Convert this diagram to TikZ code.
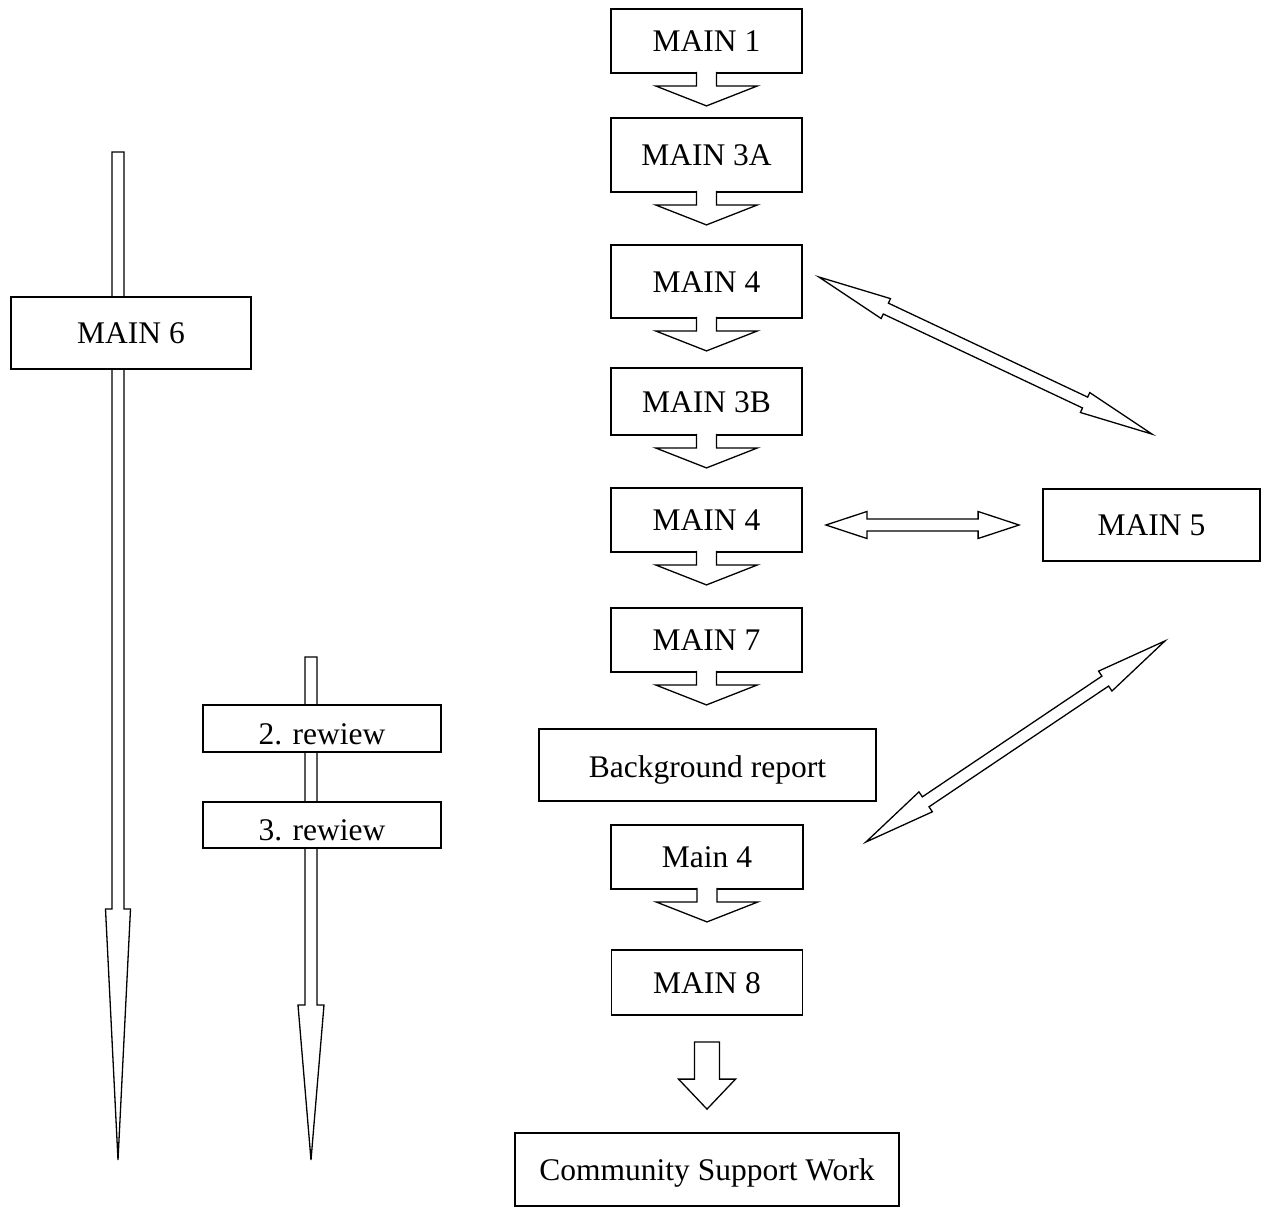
\documentclass[tikz,border=0pt]{standalone}
\usepackage{fontspec}
\setmainfont{Liberation Serif}
\usetikzlibrary{calc,positioning}

% block arrow from #1 to tip #2: stem half width, head half width, head length
\newcommand{\onearrow}[5]{%
  \coordinate (s) at (#1);
  \coordinate (t) at (#2);
  \coordinate (h) at ($(t)!#5!(s)$);
  \draw[blockarrow] ($(s)!#3!90:(t)$) -- ($(h)!#3!90:(t)$) -- ($(h)!#4!90:(t)$) -- (t)
    -- ($(h)!#4!-90:(t)$) -- ($(h)!#3!-90:(t)$) -- ($(s)!#3!-90:(t)$) -- cycle;}

% short arrow hanging below a box (open at the box)
\newcommand{\flowarrow}[1]{%
  \coordinate (s) at ($(#1.south)+(0,-2)$);
  \coordinate (t) at ($(#1.south)+(0,32)$);
  \coordinate (h) at ($(t)!20pt!(s)$);
  \draw[blockarrow] ($(s)!10pt!90:(t)$) -- ($(h)!10pt!90:(t)$) -- ($(h)!51pt!90:(t)$) -- (t)
    -- ($(h)!51pt!-90:(t)$) -- ($(h)!10pt!-90:(t)$) -- ($(s)!10pt!-90:(t)$);}

% double block arrow between tips #1 and #2
\newcommand{\twoarrow}[5]{%
  \coordinate (a) at (#1);
  \coordinate (b) at (#2);
  \coordinate (ha) at ($(a)!#5!(b)$);
  \coordinate (hb) at ($(b)!#5!(a)$);
  \draw[blockarrow] (a) -- ($(ha)!#4!90:(b)$) -- ($(ha)!#3!90:(b)$) -- ($(hb)!#3!-90:(a)$)
    -- ($(hb)!#4!-90:(a)$) -- (b) -- ($(hb)!#4!90:(a)$) -- ($(hb)!#3!90:(a)$)
    -- ($(ha)!#3!-90:(b)$) -- ($(ha)!#4!-90:(b)$) -- cycle;}

\begin{document}
\begin{tikzpicture}[x=1pt,y=-1pt]
    \tikzstyle{stepbox}=[draw,fill=white,line width=1.8pt,inner sep=0pt,
      text height=21pt,text depth=0pt,font=\fontsize{31.5}{36}\selectfont]
    \tikzstyle{blockarrow}=[draw=black,fill=white,line width=1.3pt]
    \useasboundingbox (0,0) rectangle (1263,1208);

    % long arrows on the left
    \coordinate (l1top) at (118,152);
    \coordinate (l1tip) at (118,1160);
    \coordinate (l2top) at (311,657);
    \coordinate (l2tip) at (311,1160);
    \onearrow{l1top}{l1tip}{6pt}{12.5pt}{251pt}
    \onearrow{l2top}{l2tip}{6pt}{13pt}{155pt}

    \node[stepbox,minimum width=240pt,minimum height=72pt] (m6) at (131,333) {MAIN 6};
    \node[stepbox,minimum width=238pt,minimum height=47pt,text height=32pt] (r2) at (322,728.5) {2. rewiew};
    \node[stepbox,minimum width=238pt,minimum height=46pt,text height=30pt] (r3) at (322,825) {3. rewiew};

    % main column
    \node[stepbox,minimum width=191pt,minimum height=64pt] (m1)  at (706.5,41)    {MAIN 1};
    \node[stepbox,minimum width=191pt,minimum height=74pt] (m3a) at (706.5,155)   {MAIN 3A};
    \node[stepbox,minimum width=191pt,minimum height=73pt] (m4a) at (706.5,281.5) {MAIN 4};
    \node[stepbox,minimum width=191pt,minimum height=67pt] (m3b) at (706.5,401.5) {MAIN 3B};
    \node[stepbox,minimum width=191pt,minimum height=64pt] (m4b) at (706.5,520)   {MAIN 4};
    \node[stepbox,minimum width=191pt,minimum height=64pt] (m7)  at (706.5,640)   {MAIN 7};
    \node[stepbox,minimum width=337pt,minimum height=72pt,text height=25pt] (bg) at (707.5,765) {Background report};
    \node[stepbox,minimum width=192pt,minimum height=64pt] (m4c) at (707,857)     {Main 4};
    \node[stepbox,minimum width=191pt,minimum height=65pt] (m8)  at (707,982.5)   {MAIN 8};
    \node[stepbox,minimum width=384pt,minimum height=73pt] (csw) at (707,1169.5)  {Community Support Work};

    \node[stepbox,minimum width=217pt,minimum height=72pt] (m5)  at (1151.5,525)  {MAIN 5};

    \flowarrow{m1}
    \flowarrow{m3a}
    \flowarrow{m4a}
    \flowarrow{m3b}
    \flowarrow{m4b}
    \flowarrow{m7}
    \flowarrow{m4c}
    \onearrow{$(m8.south)+(0,26)$}{$(csw.north)+(0,-23)$}{12.5pt}{28.5pt}{30pt}

    % links to MAIN 5
    \twoarrow{$(m4a.east)+(16,-4.5)$}{$(m5.north)+(0.5,-54)$}{6pt}{11pt}{74pt}
    \twoarrow{$(m4b.east)+(23,5)$}{$(m5.west)+(-23,0)$}{6pt}{13.5pt}{41pt}
    \twoarrow{$(m4c.east)+(62,-15)$}{$(m5.south)+(13.5,79)$}{6pt}{12pt}{72pt}
\end{tikzpicture}
\end{document}
